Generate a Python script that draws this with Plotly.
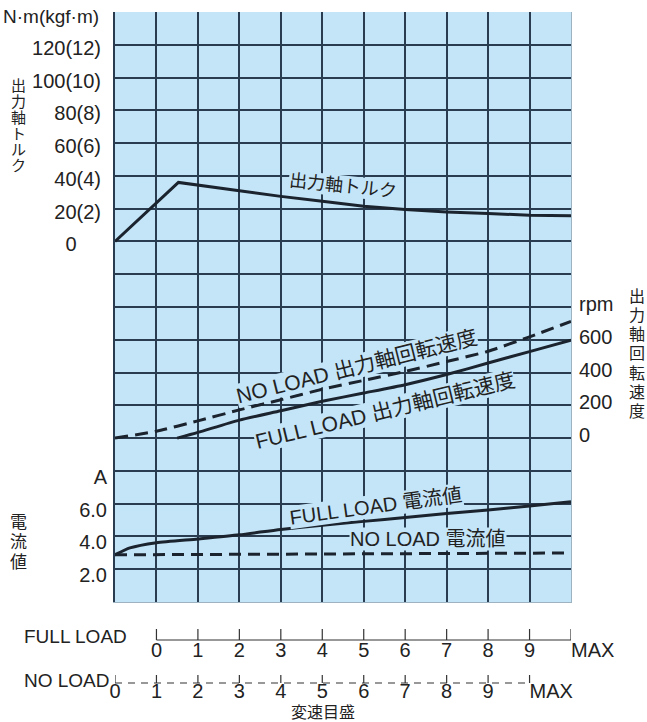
import plotly.graph_objects as go

# ---------------- data ----------------
# x positions are in grid columns (0 = left edge, 11 = right edge)
dial_labels = ["0", "1", "2", "3", "4", "5", "6", "7", "8", "9", "MAX"]
full_load_offset = 1   # FULL LOAD dial "0" sits on column 1
no_load_offset = 0     # NO LOAD dial "0" sits on column 0

torque_x = [0, 1.53, 3, 4, 5, 6, 7, 8, 9, 10, 11]
torque_nm = [0, 36, 31, 27.5, 24.5, 21.5, 19.5, 18, 17, 16, 15.7]

rpm_no_x = [0, 1, 2, 3, 4, 5, 6, 7, 8, 9, 10, 11]
rpm_no = [0, 42, 105, 172, 234, 298, 352, 407, 467, 530, 618, 712]

rpm_full_x = [1.5, 2, 3, 4, 5, 6, 7, 8, 9, 10, 11]
rpm_full = [0, 35, 110, 167, 225, 275, 326, 388, 458, 528, 598]

cur_full_x = [0, 0.36, 1, 2, 3, 4, 5, 6, 7, 8, 9, 10, 11]
cur_full = [2.88, 3.3, 3.62, 3.85, 4.1, 4.43, 4.68, 4.92, 5.15, 5.4, 5.62, 5.86, 6.12]

cur_no_x = [0, 1, 2, 3, 4, 5, 6, 7, 8, 9, 10, 11]
cur_no = [2.88, 2.89, 2.9, 2.91, 2.92, 2.93, 2.94, 2.95, 2.96, 2.97, 2.98, 2.99]

torque_ticks = [0, 20, 40, 60, 80, 100, 120]
torque_labels = ["0", "20(2)", "40(4)", "60(6)", "80(8)", "100(10)", "120(12)"]
torque_unit = "N·m(kgf·m)"
rpm_ticks = [0, 200, 400, 600, 800]
rpm_labels = ["0", "200", "400", "600", "rpm"]
cur_ticks = [2, 4, 6, 8]
cur_labels = ["2.0", "4.0", "6.0", "A"]

# ---------------- style / layout ----------------
W, H = 647, 722
ML, MR, MT, MB = 115, 76, 12, 0
PW, PH = W - ML - MR, H - MT - MB
PLOT_BOTTOM = 602
BG = "#c4e5f8"
GRID = "#2a3d50"
INK = "#1b242e"
TXT = "#222222"
FONT = "Liberation Sans, Noto Sans CJK JP, sans-serif"


def px_x(px):
    return (px - ML) / PW


def px_y(py):
    return (H - MB - py) / PH


main_dom0 = px_y(PLOT_BOTTOM)
fig = go.Figure()

line_w = 3
fig.add_trace(go.Scatter(x=torque_x, y=torque_nm, mode="lines", yaxis="y",
                         line=dict(color=INK, width=line_w)))
fig.add_trace(go.Scatter(x=rpm_no_x, y=rpm_no, mode="lines", yaxis="y2",
                         line=dict(color=INK, width=line_w, dash="13px,7px", shape="spline", smoothing=0.6)))
fig.add_trace(go.Scatter(x=rpm_full_x, y=rpm_full, mode="lines", yaxis="y2",
                         line=dict(color=INK, width=line_w, shape="spline", smoothing=0.6)))
fig.add_trace(go.Scatter(x=cur_full_x, y=cur_full, mode="lines", yaxis="y3",
                         line=dict(color=INK, width=line_w, shape="spline", smoothing=0.6)))
fig.add_trace(go.Scatter(x=cur_no_x, y=cur_no, mode="lines", yaxis="y3",
                         line=dict(color=INK, width=line_w, dash="12px,7px")))

# ---------------- bottom dial scales (y4 is in page pixels) ----------------
FULL_Y, NO_Y, FULL_TICK, NO_TICK = 640, 683, 11, 8
FULL_LAB_Y, NO_LAB_Y = 652, 693
full_pos = [i + full_load_offset for i in range(len(dial_labels))]
no_pos = [i + no_load_offset for i in range(len(dial_labels))]

fx, fy = [full_pos[0], full_pos[-1], None], [FULL_Y, FULL_Y, None]
for p in full_pos:
    fx += [p, p, None]
    fy += [FULL_Y, FULL_Y - FULL_TICK, None]
fig.add_trace(go.Scatter(x=fx, y=fy, mode="lines", xaxis="x2", yaxis="y4",
                         line=dict(color="#333333", width=1.2)))
nx, ny = [], []
for p in no_pos:
    nx += [p, p, None]
    ny += [NO_Y, NO_Y - NO_TICK, None]
fig.add_trace(go.Scatter(x=nx, y=ny, mode="lines", xaxis="x2", yaxis="y4",
                         line=dict(color="#333333", width=1.2)))
fig.add_trace(go.Scatter(x=[no_pos[0], no_pos[-1]], y=[NO_Y, NO_Y], mode="lines",
                         xaxis="x2", yaxis="y4",
                         line=dict(color="#333333", width=1.2, dash="7px,6px")))

tpos = ["middle center"] * (len(dial_labels) - 1) + ["middle right"]
fig.add_trace(go.Scatter(x=full_pos, y=[FULL_LAB_Y] * len(full_pos), text=dial_labels,
                         mode="text", textposition=tpos, xaxis="x2", yaxis="y4", cliponaxis=False,
                         textfont=dict(family=FONT, size=20, color=TXT)))
fig.add_trace(go.Scatter(x=no_pos, y=[NO_LAB_Y] * len(no_pos), text=dial_labels,
                         mode="text", textposition=tpos, xaxis="x2", yaxis="y4", cliponaxis=False,
                         textfont=dict(family=FONT, size=20, color=TXT)))

# ---------------- annotations ----------------
ann = []


def add_text(text, x, y, size, angle=0, xanchor="center", bg=None):
    d = dict(text=text, x=px_x(x), y=px_y(y), xref="paper", yref="paper",
             showarrow=False, textangle=angle, xanchor=xanchor, yanchor="middle",
             font=dict(family=FONT, size=size, color=TXT))
    if bg:
        d.update(bgcolor=bg, borderpad=0)
    ann.append(d)


# vertical axis titles
for i, ch in enumerate("出力軸トルク"):
    add_text(ch, 18, 86 + i * 15.8, 15)
for i, ch in enumerate("電流値"):
    add_text(ch, 18, 522 + i * 20, 17)
for i, ch in enumerate("出力軸回転速度"):
    add_text(ch, 637, 296 + i * 19.3, 16)

add_text(torque_unit, 101, 17, 19, xanchor="right")

# curve labels
add_text("出力軸トルク", 343, 186, 18, angle=6, bg=BG)
add_text("NO LOAD 出力軸回転速度", 356, 366, 21, angle=-14, bg=BG)
add_text("FULL LOAD 出力軸回転速度", 385, 411, 21, angle=-13.6, bg=BG)
add_text("FULL LOAD 電流値", 376, 506, 20, angle=-7.8, bg=BG)
add_text("NO LOAD 電流値", 428, 539, 20, bg=BG)

# bottom scale titles
add_text("FULL LOAD", 22, 636, 19, xanchor="left")
add_text("NO LOAD", 22, 680, 19, xanchor="left")
add_text("変速目盛", 323, 712, 16)

# ---------------- axes ----------------
hidden = "<span style='color:rgba(0,0,0,0)'>(0)</span>"
torque_text = [t + hidden if t == "0" else t for t in torque_labels]

fig.update_layout(
    width=W, height=H,
    margin=dict(l=ML, r=MR, t=MT, b=MB),
    paper_bgcolor="white", plot_bgcolor="white",
    showlegend=False,
    annotations=ann,
    shapes=[dict(type="rect", xref="paper", yref="paper", x0=0, x1=1, y0=main_dom0, y1=1,
                 fillcolor=BG, line=dict(width=0), layer="below")],
    xaxis=dict(domain=[0, 1], range=[0, 11], anchor="y",
               tickmode="array", tickvals=list(range(0, 11)), showticklabels=False, ticks="",
               showgrid=True, gridcolor=GRID, gridwidth=2, zeroline=False,
               showline=True, linecolor="#9db3c2", linewidth=1),
    yaxis=dict(domain=[main_dom0, 1], range=[-220, 140], anchor="x",
               tickmode="array", tickvals=torque_ticks, ticktext=torque_text,
               tickfont=dict(family=FONT, size=20, color=TXT), ticks="",
               ticklabelstandoff=8, ticklabelshift=3,
               showgrid=True, gridcolor=GRID, gridwidth=2, zeroline=False,
               minor=dict(tick0=-220, dtick=20, showgrid=True, gridcolor=GRID, gridwidth=2, ticks=""),
               showline=True, linecolor=GRID, linewidth=2),
    yaxis2=dict(overlaying="y", side="right", anchor="x", range=[-1000, 2600],
                tickmode="array", tickvals=rpm_ticks, ticktext=rpm_labels,
                tickfont=dict(family=FONT, size=20, color=TXT), ticks="",
                ticklabelstandoff=3, ticklabelshift=-3,
                showgrid=False, zeroline=False, showline=True, linecolor="#9db3c2", linewidth=1),
    yaxis3=dict(overlaying="y", side="left", anchor="x", range=[0, 36],
                tickmode="array", tickvals=cur_ticks, ticktext=cur_labels,
                tickfont=dict(family=FONT, size=20, color=TXT), ticks="",
                ticklabelstandoff=7, ticklabelshift=6,
                showgrid=False, zeroline=False),
    xaxis2=dict(domain=[0, 1], range=[0, 11], anchor="y4", visible=False),
    yaxis4=dict(domain=[0, px_y(605)], range=[H, 605], anchor="x2", visible=False),
)

fig.write_html("out.html")
